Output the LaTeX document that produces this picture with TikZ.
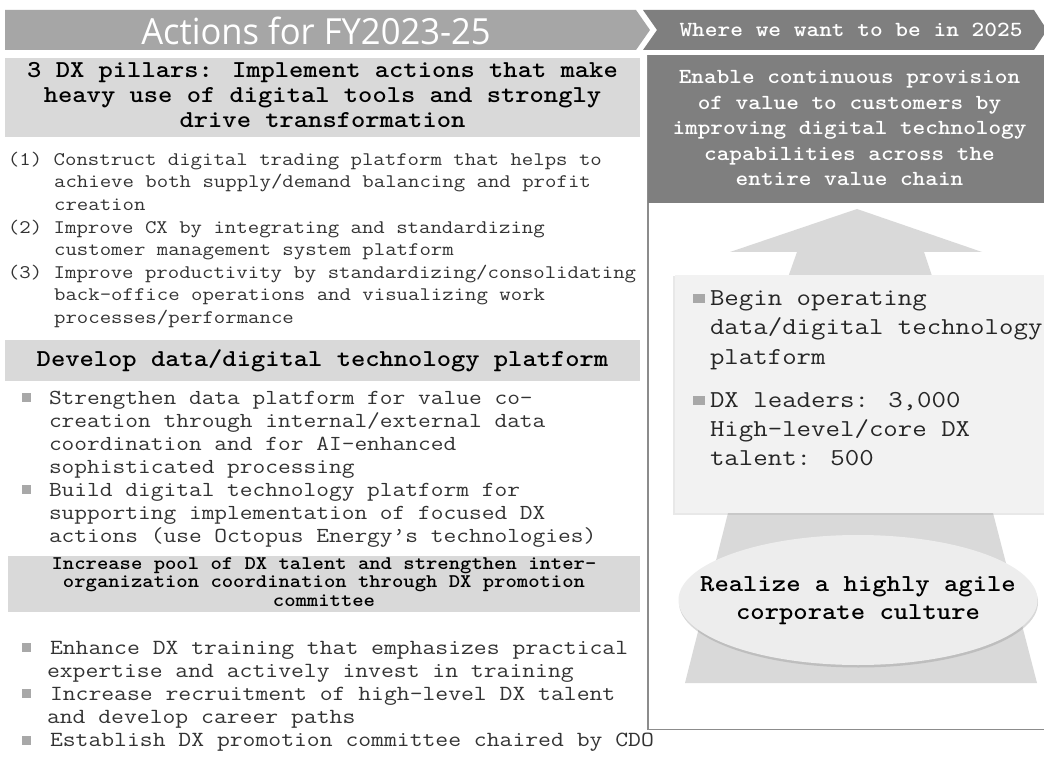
\documentclass[tikz,border=0pt]{standalone}
\usepackage{fontspec}
\usepackage{graphicx}
\usetikzlibrary{shapes.geometric,shadows}
\newfontfamily\mono{lmmono12-regular.otf}[FakeStretch=1.155]
\newfontfamily\monob{lmmonolt10-bold.otf}[FakeStretch=1.12]
\newfontfamily\titlefont{Open Sans}
\definecolor{boxgray}{HTML}{D9D9D9}
\definecolor{bannergray}{HTML}{A6A6A6}
\definecolor{dkgray}{HTML}{7F7F7F}
\definecolor{palegray}{HTML}{F2F2F2}
\definecolor{arrowgray}{HTML}{D9D9D9}
\definecolor{bodytext}{HTML}{333333}
\definecolor{bulletgray}{HTML}{A8A8A8}
\definecolor{ellgray}{HTML}{EDEDED}
\definecolor{framegray}{HTML}{8C8C8C}
\newcommand{\mylinesl}[1]{\begin{tabular}[t]{@{}l@{}}#1\end{tabular}}
\newcommand{\mylinesc}[1]{\begin{tabular}[t]{@{}c@{}}#1\end{tabular}}
\newcommand{\ind}{\hspace*{2.4em}}
\begin{document}
\begin{tikzpicture}[x=1pt,y=-1pt,
  every node/.style={inner sep=0pt, outer sep=0pt},
  hdrbox/.style={fill=boxgray, minimum width=635pt, align=center, text=black},
  body/.style={anchor=base west, text=bodytext},
  bul/.style={fill=bulletgray, minimum width=9pt, minimum height=9pt},
  rbul/.style={fill=bulletgray, minimum width=12pt, minimum height=9pt},
  banner/.style={text=white}]
\useasboundingbox (0,0) rectangle (1044,767);
\fill[white] (0,0) rectangle (1044,767);

% top banners
\fill[bannergray] (5,10) -- (636,10) -- (650,30) -- (636,50) -- (5,50) -- cycle;
\fill[dkgray] (643,10) -- (1034,10) -- (1047,30) -- (1034,50) -- (643,50) -- (657,30) -- cycle;
\node[banner] (acts) at (316,31) {\scalebox{0.96}[1]{\titlefont\fontsize{36}{36}\selectfont Actions for FY2023-25}};
\node[banner] (where) at (851,30) {\monob\fontsize{21.6}{24}\selectfont Where we want to be in 2025};

% right frame
\draw[framegray, line width=1.5pt] (648,55) -- (648,729.5) -- (1050,729.5);
\node[fill=dkgray, minimum width=400pt, minimum height=148pt] (goalbox) at (847.5,129) {};
\node[text=white, align=center] (goal) at (849.5,129.5) {\monob\fontsize{21.5}{25.5}\selectfont
 \mylinesc{Enable continuous provision\\of value to customers by\\improving digital technology\\capabilities across the\\entire value chain}};

% big arrow
\fill[arrowgray] (685,683) -- (1037,683) -- (993,513) -- (940,300) -- (924,252) -- (982,252)
  -- (857,209) -- (730,252) -- (797,252) -- (780,300) -- (728,513) -- cycle;

% light box
\node[fill=palegray, minimum width=380pt, minimum height=238pt,
  drop shadow={shadow xshift=-2pt, shadow yshift=-1.5pt, opacity=0.18}] (kpibox) at (865,394) {};
\node[rbul] (rb1) at (699,298.5) {};
\node[body, text=black!85] (kpi1) at (710,305.5) {\mono\fontsize{24.3}{29.3}\selectfont
 \mylinesl{Begin operating\\data/digital technology\\platform}};
\node[rbul] (rb2) at (699,400) {};
\node[body, text=black!85] (kpi2) at (710,407) {\mono\fontsize{24.3}{29}\selectfont
 \mylinesl{DX leaders: 3,000\\High-level/core DX\\talent: 500}};

% ellipse
\node[ellipse, fill=ellgray, minimum width=359pt, minimum height=130pt,
  drop shadow={shadow xshift=0.5pt, shadow yshift=-2.5pt, opacity=0.3}] (culture) at (858,600) {};
\node[align=center] (culturetxt) at (culture.center) {\monob\fontsize{24.4}{28}\selectfont
 \mylinesc{Realize a highly agile\\corporate culture}};

% left column
\node[hdrbox, minimum height=79pt] (pillars) at (322.5,97.5) {\monob\fontsize{24.3}{25}\selectfont
 \mylinesc{3 DX pillars: Implement actions that make\\heavy use of digital tools and strongly\\drive transformation}};

\node[body] (plist) at (8,165.3) {\mono\fontsize{19.2}{22.6}\selectfont
 \mylinesl{(1) Construct digital trading platform that helps to\\
 \ind achieve both supply/demand balancing and profit\\
 \ind creation\\
 (2) Improve CX by integrating and standardizing\\
 \ind customer management system platform\\
 (3) Improve productivity by standardizing/consolidating\\
 \ind back-office operations and visualizing work\\
 \ind processes/performance}};

\node[hdrbox, minimum height=41pt] (platform) at (322.5,360.5) {\monob\fontsize{24.3}{25}\selectfont
 Develop data/digital technology platform};

\node[bul] (b1) at (26,397) {};
\node[bul] (b2) at (26,489) {};
\node[body] (plat) at (49,404) {\mono\fontsize{21.4}{23}\selectfont
 \mylinesl{Strengthen data platform for value co-\\
 creation through internal/external data\\
 coordination and for AI-enhanced\\
 sophisticated processing\\
 Build digital technology platform for\\
 supporting implementation of focused DX\\
 actions (use Octopus Energy’s technologies)}};

\node[hdrbox, minimum width=632pt, minimum height=56pt] (talentbox) at (324,584) {\monob\fontsize{19.3}{18.5}\selectfont
 \mylinesc{Increase pool of DX talent and strengthen inter-\\organization coordination through DX promotion\\committee}};

\node[bul] (b3) at (26,647) {};
\node[bul] (b4) at (26,693) {};
\node[bul] (b5) at (26,740) {};
\node[body] (talent) at (47,654) {\mono\fontsize{21.6}{23.2}\selectfont
 \mylinesl{\hspace*{3pt}Enhance DX training that emphasizes practical\\
 expertise and actively invest in training\\
 \hspace*{3pt}Increase recruitment of high-level DX talent\\
 and develop career paths\\
 \hspace*{3pt}Establish DX promotion committee chaired by CDO}};
\end{tikzpicture}
\end{document}
